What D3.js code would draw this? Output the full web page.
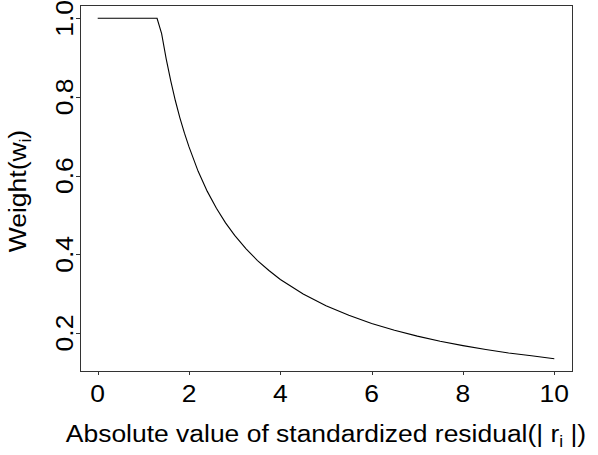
<!DOCTYPE html>
<html><head><meta charset="utf-8">
<script src="https://cdn.jsdelivr.net/npm/d3@7"></script>
<style>body{margin:0;background:#fff}svg{display:block}text{font-family:"Liberation Sans",Arial,sans-serif;fill:#000}</style>
</head><body>
<svg id="c" width="598" height="455"></svg>
<script>
// residual |r_i| and weight w_i
const residual = [0, 1.3, 1.4, 1.5, 1.6, 1.7, 1.8, 1.9, 2.0, 2.2, 2.4, 2.6, 2.8, 3.0, 3.25, 3.5, 3.75, 4.0, 4.5, 5.0, 5.5, 6.0, 6.5, 7.0, 7.5, 8.0, 8.5, 9.0, 9.5, 10.0];
const weight   = [1, 1, 0.961, 0.897, 0.841, 0.791, 0.747, 0.708, 0.673, 0.611, 0.560, 0.517, 0.480, 0.448, 0.414, 0.384, 0.359, 0.336, 0.299, 0.269, 0.245, 0.224, 0.207, 0.192, 0.179, 0.168, 0.158, 0.149, 0.142, 0.1345];
const xTicks = [0, 2, 4, 6, 8, 10];
const yTicks = [0.2, 0.4, 0.6, 0.8, 1.0];
const xTitle = "Absolute value of standardized residual(| r";
const yTitle = "Weight(w";

(function () {
const svg = d3.select("#c");
const x = d3.scaleLinear().domain([0, 10]).range([97.7, 554.3]);
const y = d3.scaleLinear().domain([0.2, 1.0]).range([333, 18.3]);
const pl = 80, pt = 5, pr = 572, pb = 371;
const tickLen = 4;
const fs = 24.5, sx = 1.08;

svg.append("rect").attr("x", pl + 0.5).attr("y", pt + 0.5)
  .attr("width", pr - pl).attr("height", pb - pt)
  .attr("fill", "none").attr("stroke", "#333").attr("stroke-width", 1);

const data = residual.map((r, i) => [r, weight[i]]);
svg.append("path").datum(data)
  .attr("d", d3.line().x(d => x(d[0])).y(d => y(d[1])))
  .attr("fill", "none").attr("stroke", "#000").attr("stroke-width", 1.1);

// x axis
const xa = svg.append("g");
xa.append("line").attr("x1", x(0)).attr("x2", x(10)).attr("y1", pb + 0.5).attr("y2", pb + 0.5).attr("stroke", "#333");
xTicks.forEach(t => {
  xa.append("line").attr("x1", Math.round(x(t)) + 0.5).attr("x2", Math.round(x(t)) + 0.5)
    .attr("y1", pb).attr("y2", pb + tickLen).attr("stroke", "#333");
  xa.append("text").attr("transform", `translate(${x(t)},401.5) scale(${sx},1)`).attr("text-anchor", "middle")
    .attr("font-size", fs).text(t);
});

// y axis
const ya = svg.append("g");
ya.append("line").attr("x1", pl + 0.5).attr("x2", pl + 0.5).attr("y1", y(0.2)).attr("y2", y(1.0)).attr("stroke", "#333");
yTicks.forEach(t => {
  ya.append("line").attr("y1", Math.round(y(t)) + 0.5).attr("y2", Math.round(y(t)) + 0.5)
    .attr("x1", pl - tickLen).attr("x2", pl).attr("stroke", "#333");
  ya.append("text").attr("transform", `translate(72.5,${y(t)}) rotate(-90) scale(${sx},1)`)
    .attr("text-anchor", "middle").attr("font-size", fs).text(d3.format(".1f")(t));
});

// titles
const xt = svg.append("text").attr("transform", `translate(${(pl + pr) / 2},442) scale(${sx},1)`)
  .attr("text-anchor", "middle").attr("font-size", fs);
xt.append("tspan").text(xTitle);
xt.append("tspan").attr("font-size", 16).attr("dy", 5).text("i");
xt.append("tspan").attr("dy", -5).text(" |)");

const yt = svg.append("text").attr("transform", `translate(26,191) rotate(-90) scale(${sx},1)`)
  .attr("text-anchor", "middle").attr("font-size", fs);
yt.append("tspan").text(yTitle);
yt.append("tspan").attr("font-size", 16).attr("dy", 5).text("i");
yt.append("tspan").attr("dy", -5).text(")");
})();
</script>
</body></html>
